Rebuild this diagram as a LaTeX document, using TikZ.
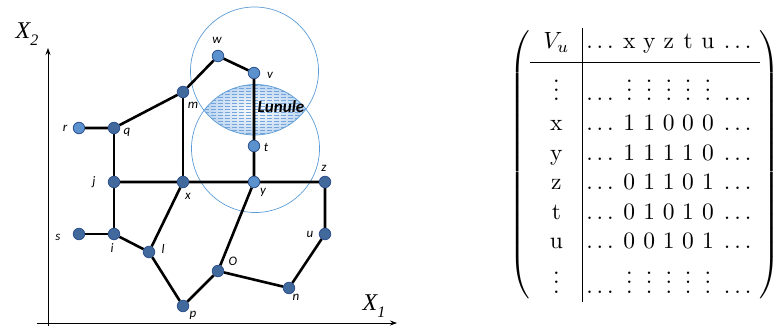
\documentclass[tikz,border=0pt]{standalone}
\usepackage{fontspec}
\usepackage{amsmath}
\usepackage{graphicx}
\usetikzlibrary{arrows.meta,backgrounds}
\newfontfamily\lblfont{Carlito}
\newfontfamily\axfont{Liberation Serif}
\definecolor{vtxdark}{HTML}{41699B}
\definecolor{vtxlight}{HTML}{5B91CD}
\definecolor{vtxline}{HTML}{2F528F}
\definecolor{ringblue}{HTML}{5B9BD5}
\definecolor{lunfill}{HTML}{BCD5F0}
\definecolor{hatchblue}{HTML}{73A5DC}
\tikzset{
  vtx/.style={circle, draw=vtxline, fill=vtxdark, line width=0.8pt,
    minimum size=11.5pt, inner sep=0pt},
  vtxl/.style={vtx, fill=vtxlight},
  lbl/.style={font=\lblfont\itshape\fontsize{13}{13}\selectfont, inner sep=0pt},
  tag/.style n args={3}{label={[lbl,xshift=#1pt,yshift=#2pt]center:#3}},
  edge/.style={line width=2.6pt},
  ring/.style={draw=ringblue, line width=0.7pt},
  hatch/.style={draw=hatchblue, line width=0.55pt, dash pattern=on 5pt off 2pt},
  axis/.style={line width=0.8pt, -{Stealth[length=7pt,width=5pt]}}
}
\begin{document}
\begin{tikzpicture}[x=1pt,y=-1pt]
\useasboundingbox (0,0) rectangle (776,326);
% ---------- axes ----------
\coordinate (yfoot) at (48,326);
\coordinate (ytip) at (48,48);
\coordinate (xfoot) at (37,323);
\coordinate (xtip) at (397,323);
\draw[axis] (yfoot) -- (ytip);
\draw[axis] (xfoot) -- (xtip);
\node (xtwo) at (27,34) {\axfont\itshape\fontsize{24}{24}\selectfont X\raisebox{-0.28em}{\fontsize{16}{16}\selectfont 2}};
\node (xone) at (374,306) {\axfont\itshape\fontsize{24}{24}\selectfont X\raisebox{-0.28em}{\fontsize{16}{16}\selectfont 1}};
% ---------- vertices ----------
\node[vtxl,tag={-1}{16}{w}] (w) at (218,56) {};
\node[vtxl,tag={16}{-2}{v}] (v) at (254,73) {};
\node[vtx,tag={10}{-13}{m}] (m) at (183,92) {};
\node[vtxl,tag={-14}{0}{r}] (r) at (79,128) {};
\node[vtx,tag={13}{-4}{q}] (q) at (114,128) {};
\node[vtxl,tag={12}{-1}{t}] (t) at (254,146) {};
\node[vtx,tag={-20}{0}{j}] (j) at (114,182) {};
\node[vtx,tag={5}{-14}{x}] (x) at (183,182) {};
\node[vtxl,tag={9}{-10}{y}] (y) at (254,182) {};
\node[vtx,tag={-1}{14}{z}] (z) at (325,182) {};
\node[vtx,tag={-21}{-3}{s}] (s) at (79,234) {};
\node[vtx,tag={-2}{-14}{i}] (i) at (114,234) {};
\node[vtx,tag={-15}{0}{u}] (u) at (325,234) {};
\node[vtx,tag={14}{3}{l}] (l) at (149,252) {};
\node[vtx,tag={15}{10}{O}] (o) at (218,271) {};
\node[vtx,tag={7}{-9}{n}] (n) at (289,288) {};
\node[vtx,tag={10}{-9}{p}] (p) at (183,306) {};
% ---------- lunule and neighbourhoods ----------
\coordinate (cup) at (254.5,71);
\coordinate (clow) at (255.5,148.5);
\begin{scope}[on background layer]
  \begin{scope}
    \clip (cup) circle (64pt);
    \clip (clow) circle (64pt);
    \shade[inner color=white, outer color=lunfill] (255,110) ellipse (50pt and 26pt);
    \foreach \h in {85,88,...,136}
      \draw[hatch] (190,\h) -- (320,\h);
  \end{scope}
  \draw[ring] (cup) circle (64pt);
  \draw[ring] (clow) circle (64pt);
  % edges
  \draw[edge] (r) -- (q) -- (m) -- (w) -- (v) -- (t) -- (y);
  \draw[edge] (m) -- (x);
  \draw[edge] (q) -- (j) -- (i) -- (s);
  \draw[edge] (j) -- (x) -- (y) -- (z) -- (u) -- (n) -- (o) -- (y);
  \draw[edge] (x) -- (l) -- (i);
  \draw[edge] (l) -- (p) -- (o);
\end{scope}
\node[font=\lblfont\bfseries\itshape\fontsize{17}{17}\selectfont, inner sep=0pt] (lun) at (281,107) {Lunule};
% ---------- adjacency matrix ----------
\node (adj) at (645,165) {\scalebox{2.35}{\renewcommand{\arraystretch}{1.05}$\left(\begin{array}{@{\hskip5.5pt}c@{\hskip5.5pt}|@{\hskip1.5pt}c@{\hskip4pt}c*{4}{@{\hskip3.2pt}c}@{\hskip4pt}c@{\hskip3.5pt}}
V_u & \ldots & \mathrm{x} & \mathrm{y} & \mathrm{z} & \mathrm{t} & \mathrm{u} & \ldots\\[2pt] \hline
\rule{0pt}{16pt}\vdots & \ldots & \vdots & \vdots & \vdots & \vdots & \vdots & \ldots\\
\mathrm{x} & \ldots & 1 & 1 & 0 & 0 & 0 & \ldots\\
\mathrm{y} & \ldots & 1 & 1 & 1 & 1 & 0 & \ldots\\
\mathrm{z} & \ldots & 0 & 1 & 1 & 0 & 1 & \ldots\\
\mathrm{t} & \ldots & 0 & 1 & 0 & 1 & 0 & \ldots\\
\mathrm{u} & \ldots & 0 & 0 & 1 & 0 & 1 & \ldots\\
\vdots & \ldots & \vdots & \vdots & \vdots & \vdots & \vdots & \ldots
\end{array}\right)$}};
\end{tikzpicture}
\end{document}
